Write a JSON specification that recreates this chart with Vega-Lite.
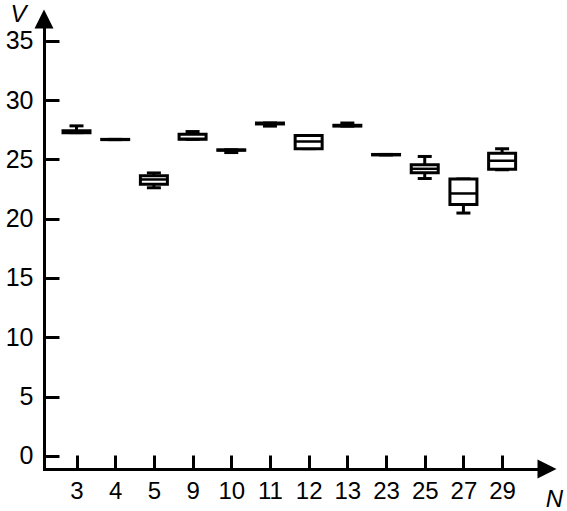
{
  "$schema": "https://vega.github.io/schema/vega-lite/v6.json",
  "width": 503,
  "height": 450,
  "autosize": "none",
  "padding": {"left": 44, "top": 19, "right": 20, "bottom": 42},
  "background": "white",
  "config": {
    "view": {"stroke": null},
    "font": "Liberation Sans",
    "axisX": {
      "domainColor": "black", "domainWidth": 3, "domainCap": "square",
      "tickColor": "black", "tickWidth": 3, "tickSize": -14,
      "labelFontSize": 24, "labelColor": "black", "labelPadding": 24, "labelAngle": 0,
      "grid": false,
      "titleFontSize": 24, "titleFontStyle": "italic", "titleFontWeight": "normal", "titleColor": "black",
      "titleX": 510, "titleY": 30, "titleAngle": 0, "titleAlign": "center", "titleBaseline": "middle"
    },
    "axisY": {
      "domainColor": "black", "domainWidth": 3,
      "tickColor": "black", "tickWidth": 3, "tickSize": -15,
      "labelFontSize": 25, "labelColor": "black", "labelPadding": 26,
      "grid": false,
      "titleFontSize": 24, "titleFontStyle": "italic", "titleFontWeight": "normal", "titleColor": "black",
      "titleX": -26, "titleY": -5, "titleAngle": 0, "titleAlign": "center", "titleBaseline": "middle"
    }
  },
  "layer": [
    {
      "data": {
        "values": [
          {"N": "3", "min": 27.25, "q1": 27.25, "median": 27.32, "q3": 27.4, "max": 27.82},
          {"N": "4", "min": 26.66, "q1": 26.66, "median": 26.67, "q3": 26.68, "max": 26.68},
          {"N": "5", "min": 22.6, "q1": 22.9, "median": 23.3, "q3": 23.62, "max": 23.85},
          {"N": "9", "min": 26.69, "q1": 26.69, "median": 26.72, "q3": 27.12, "max": 27.34},
          {"N": "10", "min": 25.57, "q1": 25.76, "median": 25.78, "q3": 25.8, "max": 25.8},
          {"N": "11", "min": 27.8, "q1": 27.98, "median": 28.0, "q3": 28.06, "max": 28.06},
          {"N": "12", "min": 25.9, "q1": 25.9, "median": 26.5, "q3": 27.0, "max": 27.0},
          {"N": "13", "min": 27.8, "q1": 27.8, "median": 27.83, "q3": 27.87, "max": 28.06},
          {"N": "23", "min": 25.37, "q1": 25.37, "median": 25.39, "q3": 25.41, "max": 25.41},
          {"N": "25", "min": 23.38, "q1": 23.86, "median": 24.2, "q3": 24.54, "max": 25.24},
          {"N": "27", "min": 20.47, "q1": 21.19, "median": 22.12, "q3": 23.34, "max": 23.34},
          {"N": "29", "min": 24.12, "q1": 24.17, "median": 24.88, "q3": 25.51, "max": 25.89}
        ]
      },
      "encoding": {
        "x": {
          "field": "N", "type": "ordinal", "title": "N",
          "sort": ["3", "4", "5", "9", "10", "11", "12", "13", "23", "25", "27", "29"],
          "scale": {"type": "point", "padding": 1.18, "align": 0.42}
        }
      },
      "layer": [
        {
          "mark": {"type": "rule", "color": "black", "strokeWidth": 3},
          "encoding": {
            "y": {"field": "min", "type": "quantitative", "title": "V", "scale": {"domain": [-1.11, 36.83], "nice": false, "zero": false}, "axis": {"values": [0, 5, 10, 15, 20, 25, 30, 35]}},
            "y2": {"field": "q1"}
          }
        },
        {
          "mark": {"type": "rule", "color": "black", "strokeWidth": 3},
          "encoding": {
            "y": {"field": "q3", "type": "quantitative", "title": "V", "axis": {"values": [0, 5, 10, 15, 20, 25, 30, 35]}},
            "y2": {"field": "max"}
          }
        },
        {
          "mark": {"type": "tick", "color": "black", "size": 14, "thickness": 3, "opacity": 1},
          "encoding": {"y": {"field": "min", "type": "quantitative", "title": "V", "axis": {"values": [0, 5, 10, 15, 20, 25, 30, 35]}}}
        },
        {
          "mark": {"type": "tick", "color": "black", "size": 14, "thickness": 3, "opacity": 1},
          "encoding": {"y": {"field": "max", "type": "quantitative", "title": "V", "axis": {"values": [0, 5, 10, 15, 20, 25, 30, 35]}}}
        },
        {
          "mark": {"type": "bar", "size": 27, "fill": "white", "stroke": "black", "strokeWidth": 3},
          "encoding": {
            "y": {"field": "q1", "type": "quantitative", "title": "V", "axis": {"values": [0, 5, 10, 15, 20, 25, 30, 35]}},
            "y2": {"field": "q3"}
          }
        },
        {
          "mark": {"type": "tick", "color": "black", "size": 27, "thickness": 2.5, "opacity": 1},
          "encoding": {"y": {"field": "median", "type": "quantitative", "title": "V", "axis": {"values": [0, 5, 10, 15, 20, 25, 30, 35]}}}
        }
      ]
    },
    {
      "data": {"values": [{}]},
      "layer": [
        {
          "mark": {"type": "point", "shape": "M-1,1L0,-1L1,1Z", "size": 361, "filled": true, "color": "black", "opacity": 1, "strokeWidth": 0},
          "encoding": {
            "x": {"datum": 0, "type": "quantitative", "scale": {"domain": [0, 1], "nice": false, "zero": false}, "axis": null},
            "y": {"datum": 36.83, "type": "quantitative", "title": "V", "scale": {"domain": [-1.11, 36.83], "nice": false, "zero": false}, "axis": {"values": [0, 5, 10, 15, 20, 25, 30, 35]}}
          }
        },
        {
          "mark": {"type": "point", "shape": "M-1,-1L1,0L-1,1Z", "size": 361, "filled": true, "color": "black", "opacity": 1, "strokeWidth": 0},
          "encoding": {
            "x": {"datum": 1, "type": "quantitative", "axis": null},
            "y": {"datum": -1.11, "type": "quantitative", "title": "V", "axis": {"values": [0, 5, 10, 15, 20, 25, 30, 35]}}
          }
        }
      ]
    }
  ],
  "resolve": {"scale": {"x": "independent"}, "axis": {"x": "independent"}}
}
